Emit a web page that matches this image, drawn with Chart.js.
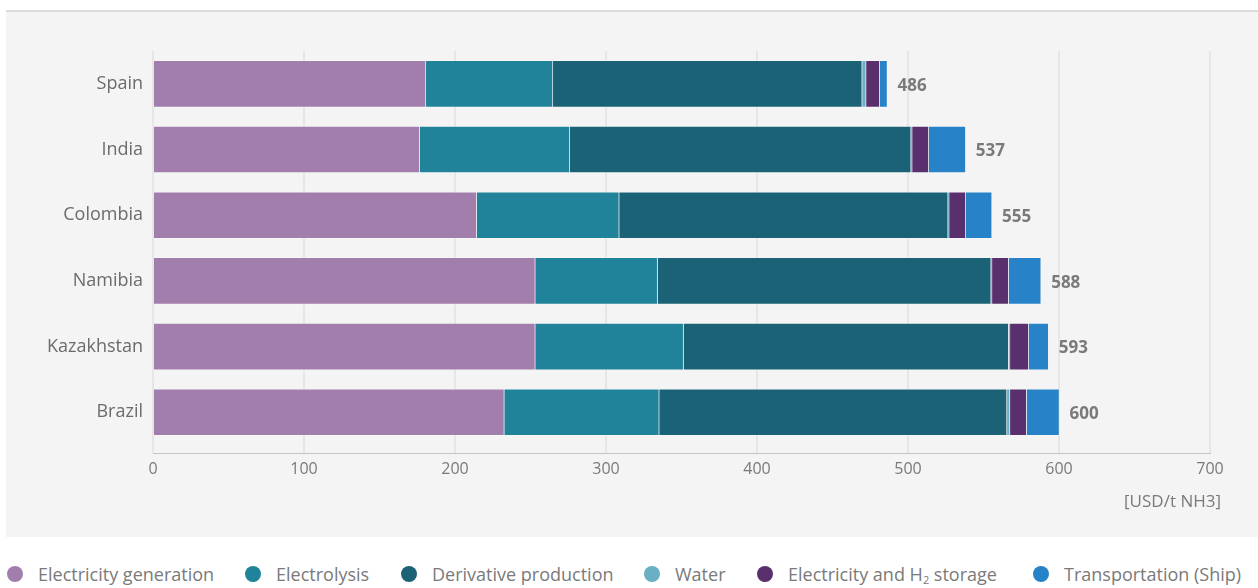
<!DOCTYPE html>
<html>
<head>
<meta charset="utf-8">
<script src="https://cdn.jsdelivr.net/npm/chart.js@4/dist/chart.umd.min.js"></script>
<style>
  html, body { margin: 0; padding: 0; background: #ffffff; }
  body { width: 1258px; height: 588px; position: relative; overflow: hidden; font-family: "Open Sans", sans-serif; }
  #panel { position: absolute; left: 6px; top: 10px; width: 1252px; height: 525px; background: #f4f4f4; border-top: 2px solid #dcdcdc; }
  #wrap { position: absolute; left: 0; top: 0; width: 1252px; height: 525px; }
  #unit { position: absolute; right: 37px; top: 477px; font-size: 17px; color: #7a7a7a; white-space: nowrap; }
  #legend { position: absolute; left: 0; top: 562px; width: 1258px; height: 26px; font-size: 18px; color: #7a7a7a; white-space: nowrap; }
  .item { position: absolute; top: 0; display: flex; align-items: center; }
  .dot { width: 16px; height: 16px; border-radius: 50%; margin-right: 15px; flex: none; }
  sub { font-size: 11px; vertical-align: -3px; line-height: 0; }
</style>
</head>
<body>
<div id="panel">
  <div id="wrap"><canvas id="c" width="1252" height="525"></canvas></div>
  <div id="unit">[USD/t NH3]</div>
</div>
<div id="legend"></div>
<script>
const categories = ["Spain", "India", "Colombia", "Namibia", "Kazakhstan", "Brazil"];
const electricityGeneration = [180.8, 176.6, 214.4, 253.2, 253.2, 232.7];
const electrolysis         = [84.1, 99.5, 94.4, 81.0, 98.2, 102.6];
const derivativeProduction = [204.8, 226.0, 217.8, 220.9, 215.3, 230.3];
const water                = [2.6, 0.7, 0.7, 0.6, 0.9, 2.0];
const storage              = [9.0, 11.0, 11.0, 11.0, 12.4, 11.0];
const transportation       = [5.1, 24.5, 17.4, 21.5, 13.2, 21.7];
const totals = [486, 537, 555, 588, 593, 600];
const xTicks = [0, 100, 200, 300, 400, 500, 600, 700];

const series = [
  { name: "Electricity generation", html: "Electricity generation", values: electricityGeneration, color: "#a27ead" },
  { name: "Electrolysis", html: "Electrolysis", values: electrolysis, color: "#21839a" },
  { name: "Derivative production", html: "Derivative production", values: derivativeProduction, color: "#1c6276" },
  { name: "Water", html: "Water", values: water, color: "#6aafc4" },
  { name: "Electricity and H2 storage", html: "Electricity and H<sub>2</sub> storage", values: storage, color: "#59306d" },
  { name: "Transportation (Ship)", html: "Transportation (Ship)", values: transportation, color: "#2782c8" }
];

// legend item left offsets (layout)
const legendLeft = [7, 245, 401, 644, 757, 1033];
const legend = document.getElementById('legend');
series.forEach((s, i) => {
  const it = document.createElement('div');
  it.className = 'item';
  it.style.left = legendLeft[i] + 'px';
  it.innerHTML = '<span class="dot" style="background:' + s.color + '"></span><span>' + s.html + '</span>';
  legend.appendChild(it);
});

const totalLabels = {
  id: 'totalLabels',
  afterDatasetsDraw(chart) {
    const ctx = chart.ctx;
    const last = chart.data.datasets.length - 1;
    const meta = chart.getDatasetMeta(last);
    ctx.save();
    ctx.font = 'bold 17px "Open Sans", sans-serif';
    ctx.fillStyle = '#7a7a7a';
    ctx.textAlign = 'left';
    ctx.textBaseline = 'middle';
    meta.data.forEach((el, i) => {
      ctx.fillText(String(totals[i]), el.x + 10, el.y + 2);
    });
    ctx.restore();
  }
};

new Chart(document.getElementById('c'), {
  type: 'bar',
  data: {
    datasets: series.map(s => ({
      label: s.name,
      data: s.values.map((v, i) => ({ x: v, y: i })),
      backgroundColor: s.color,
      borderColor: 'rgba(255,255,255,0.3)',
      borderWidth: 1,
      barThickness: 47
    }))
  },
  options: {
    indexAxis: 'y',
    responsive: false,
    animation: false,
    layout: { padding: { top: 39, right: 48, left: 0, bottom: 0 } },
    plugins: { legend: { display: false }, tooltip: { enabled: false } },
    scales: {
      x: {
        type: 'linear',
        stacked: true,
        min: 0, max: 700,
        afterBuildTicks: sc => { sc.ticks = xTicks.map(v => ({ value: v })); },
        afterFit: sc => { sc.height = 84; },
        grid: { color: '#e6e6e6', lineWidth: 2, drawTicks: false },
        border: { display: true, color: '#c4c4c4', width: 1 },
        ticks: { padding: 7, color: '#7a7a7a', font: { family: '"Open Sans", sans-serif', size: 16 } }
      },
      y: {
        type: 'linear',
        stacked: true,
        reverse: true,
        offset: false,
        min: -0.5, max: 5.62,
        afterBuildTicks: sc => { sc.ticks = categories.map((_, i) => ({ value: i })); },
        afterFit: sc => { sc.width = 147; },
        grid: { display: false, drawTicks: false, offset: false },
        border: { display: false },
        ticks: {
          padding: 10,
          color: '#6b6b6b',
          font: { family: '"Open Sans", sans-serif', size: 18 },
          callback: v => categories[v] !== undefined ? categories[v] : ''
        }
      }
    }
  },
  plugins: [totalLabels]
});
</script>
</body>
</html>
